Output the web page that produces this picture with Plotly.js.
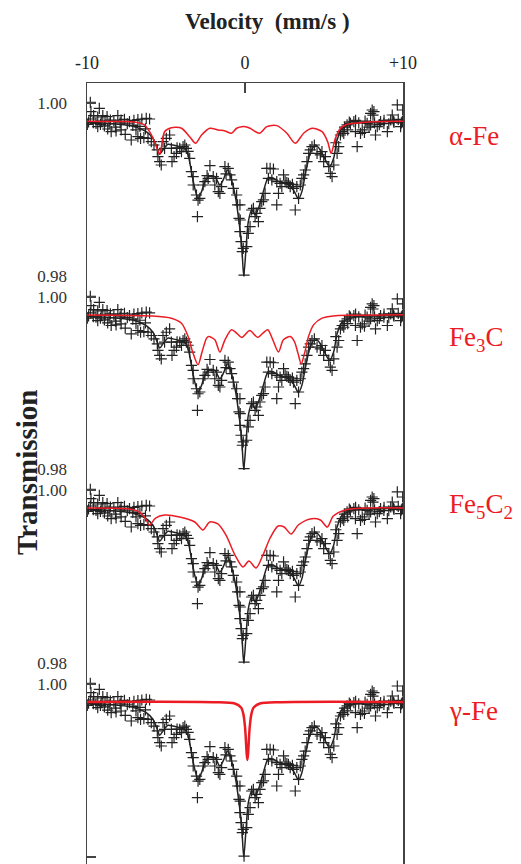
<!DOCTYPE html>
<html>
<head>
<meta charset="utf-8">
<script src="https://cdn.plot.ly/plotly-3.0.1.min.js"></script>
<style>html,body{margin:0;padding:0;background:#fff;}#chart{width:521px;height:864px;}</style>
</head>
<body>
<div id="chart"></div>
<script>
// Measured spectrum (velocity mm/s, relative transmission) - same data in every panel
const dataV = [-9.79,-9.22,-9.75,-9.58,-9.32,-9.00,-8.73,-9.79,-9.98,-9.43,-9.15,-8.86,-8.52,-8.30,-8.05,-7.84,-7.63,-7.31,-7.03,-6.78,-6.53,-6.25,-6.04,-9.32,-8.69,-8.47,-8.16,-7.84,-7.58,-7.20,-6.78,-6.61,-6.40,-6.14,-5.93,-5.76,-5.55,-5.51,-5.40,-5.30,-5.19,-4.98,-4.77,-5.09,-4.66,-4.49,-4.62,-4.34,-4.13,-3.92,-3.71,-4.02,-3.81,-3.50,-3.39,-3.28,-3.28,-3.07,-2.97,-2.86,-3.01,-2.65,-2.54,-2.33,-2.22,-2.01,-1.80,-1.91,-1.69,-1.59,-1.48,-1.27,-1.06,-0.95,-0.85,-0.74,-0.53,-0.47,-0.38,-0.32,-0.25,-0.17,
 -0.32,-0.30,-0.11,-0.06,0.11,0.21,0.32,0.42,0.53,0.64,0.74,0.85,0.95,1.06,1.17,1.27,1.38,1.59,1.80,1.48,1.70,2.01,2.22,2.44,2.54,2.75,2.86,3.07,3.28,3.50,2.12,2.01,2.33,3.18,3.39,3.60,3.71,3.81,3.92,4.03,4.13,4.24,4.39,4.56,4.77,4.87,4.98,5.09,5.30,5.40,5.51,5.62,5.83,5.93,6.04,6.15,6.25,6.46,6.67,6.89,6.99,7.10,7.31,7.42,7.56,7.73,7.95,8.05,8.16,8.26,8.37,8.58,8.79,9.01,9.22,9.32,9.43,9.64,9.85,9.98,9.96,
 -9.9,-9.6,-9.1,-8.9,-8.6,-8.2,-7.9,-7.45,-7.1,-6.9,-6.65,-6.3,6.6,7.0,7.2,7.6,7.85,8.2,8.5,8.8,9.1,9.4,9.7,9.9,7.95,8.10,6.3,6.5,5.75,-4.3,-3.6,2.65,3.0,-1.2,-2.4];
const dataT = [1.00008,0.99938,0.99900,0.99854,0.99838,0.99854,0.99842,0.99815,0.99753,0.99765,0.99753,0.99784,0.99803,0.99792,0.99854,0.99803,0.99811,0.99784,0.99800,0.99807,0.99815,0.99823,0.99815,0.99726,0.99699,0.99669,0.99676,0.99688,0.99638,0.99572,0.99611,0.99591,0.99599,0.99591,0.99553,0.99514,0.99457,0.99380,0.99322,0.99283,0.99553,0.99591,0.99630,0.99476,0.99476,0.99380,0.99322,0.99418,0.99476,0.99495,0.99476,0.99437,0.99514,0.99360,0.99206,0.99148,0.99052,0.98936,0.98878,0.98898,0.98686,0.99052,0.99090,0.99129,0.99275,0.99148,0.99129,0.99052,0.98975,0.98956,0.99033,0.99264,0.99245,0.99168,0.99110,0.99013,0.98936,0.98821,0.98667,0.98512,0.98397,0.98281,
 0.98821,0.98647,0.98320,0.98011,0.98339,0.98493,0.98570,0.98763,0.98782,0.98686,0.98724,0.98628,0.98782,0.98859,0.98879,0.98956,0.99245,0.99245,0.99237,0.99129,0.99110,0.99090,0.99071,0.99168,0.99098,0.99071,0.99033,0.99013,0.99033,0.99052,0.98956,0.98821,0.99033,0.98763,0.98898,0.99129,0.99168,0.99225,0.99322,0.99418,0.99457,0.99495,0.99514,0.99418,0.99399,0.99437,0.99322,0.99380,0.99264,0.99187,0.99148,0.99283,0.99418,0.99495,0.99630,0.99669,0.99649,0.99746,0.99765,0.99784,0.99669,0.99495,0.99649,0.99688,0.99661,0.99765,0.99746,0.99919,0.99900,0.99630,0.99726,0.99784,0.99765,0.99669,0.99803,0.99861,0.99776,0.99977,0.99726,0.99919,0.99784,
 0.99780,0.99772,0.99790,0.99735,0.99760,0.99720,0.99770,0.99760,0.99742,0.99690,0.99730,0.99700,0.99780,0.99800,0.99770,0.99790,0.99720,0.99770,0.99750,0.99800,0.99760,0.99790,0.99810,0.99770,0.99880,0.99860,0.99720,0.99690,0.99540,0.99480,0.99440,0.99080,0.99060,0.99180,0.99160];

// Total fit
const fitV = [-10,-8.05,-6.99,-6.25,-5.83,-5.55,-5.40,-5.19,-4.88,-4.56,-4.13,-3.81,-3.60,-3.39,-3.18,-2.97,-2.75,-2.54,-2.23,-1.91,-1.59,-1.38,-1.10,-0.85,-0.59,-0.38,-0.21,-0.08,0.08,0.21,0.43,0.64,0.85,1.16,1.48,1.80,2.23,2.86,3.18,3.39,3.60,3.81,4.13,4.45,4.77,5.09,5.36,5.61,5.83,6.15,6.88,8.16,10];
const fitT = [0.99777,0.99754,0.99726,0.99668,0.99592,0.99476,0.99407,0.99457,0.99523,0.99514,0.99495,0.99476,0.99399,0.99206,0.99014,0.98898,0.98975,0.99090,0.99156,0.99148,0.99052,0.99110,0.99226,0.99110,0.98898,0.98628,0.98358,0.98000,0.98358,0.98628,0.98763,0.98705,0.98783,0.98975,0.99136,0.99130,0.99083,0.99044,0.98956,0.98890,0.98975,0.99168,0.99419,0.99514,0.99457,0.99341,0.99264,0.99361,0.99572,0.99708,0.99765,0.99784,0.99792];

// Components
const alphaV = [-10,-8.07,-7.0,-6.36,-6.04,-5.72,-5.40,-5.09,-4.66,-4.02,-3.50,-3.13,-2.75,-2.23,-1.70,-1.27,-0.85,-0.53,-0.21,0.03,0.32,0.91,1.38,2.02,2.65,3.18,3.71,4.24,4.88,5.23,5.45,5.72,6.04,6.36,6.88,8.16,10];
const alphaT = [0.99790,0.99786,0.99780,0.99746,0.99668,0.99553,0.99407,0.99668,0.99714,0.99708,0.99610,0.99534,0.99630,0.99708,0.99688,0.99676,0.99650,0.99708,0.99726,0.99726,0.99708,0.99650,0.99726,0.99738,0.99650,0.99534,0.99650,0.99708,0.99668,0.99553,0.99419,0.99592,0.99708,0.99746,0.99765,0.99784,0.99790];
const fe3cV = [-10,-5.93,-4.66,-4.02,-3.60,-3.29,-2.97,-2.71,-2.43,-2.29,-1.91,-1.59,-1.27,-0.85,-0.53,-0.21,0.30,0.81,1.13,1.44,1.76,2.12,2.43,2.86,3.13,3.35,3.56,3.77,4.02,4.34,4.88,5.61,6.68,10];
const fe3cT = [0.99792,0.99780,0.99754,0.99696,0.99541,0.99349,0.99214,0.99368,0.99523,0.99541,0.99503,0.99361,0.99503,0.99619,0.99580,0.99530,0.99610,0.99530,0.99580,0.99619,0.99503,0.99361,0.99503,0.99541,0.99483,0.99349,0.99225,0.99349,0.99541,0.99676,0.99754,0.99780,0.99788,0.99795];
const fe5c2V = [-10,-7.63,-6.80,-6.36,-6.04,-5.66,-5.09,-4.13,-3.18,-2.67,-2.23,-1.72,-1.21,-0.64,-0.13,0.25,0.70,1.14,1.59,2.10,2.48,2.92,3.37,4.13,4.77,5.21,5.59,6.36,7.95,10];
const fe5c2T = [0.99792,0.99786,0.99757,0.99688,0.99595,0.99676,0.99711,0.99688,0.99630,0.99538,0.99630,0.99607,0.99480,0.99249,0.99110,0.99179,0.99098,0.99249,0.99445,0.99584,0.99572,0.99491,0.99595,0.99665,0.99653,0.99572,0.99699,0.99769,0.99792,0.99792];
const gammaV = [-10,-2,-0.65,-0.25,-0.10,0,0.05,0.10,0.15,0.20,0.25,0.30,0.40,0.55,0.95,2.3,10];
const gammaT = [0.99792,0.99790,0.99775,0.99728,0.99649,0.99504,0.99371,0.99208,0.99121,0.99208,0.99371,0.99504,0.99649,0.99728,0.99775,0.99790,0.99792];

const compV = [alphaV, fe3cV, fe5c2V, gammaV];
const compT = [alphaT, fe3cT, fe5c2T, gammaT];
const compLabels = ['α-Fe', 'Fe<sub>3</sub>C', 'Fe<sub>5</sub>C<sub>2</sub>', 'γ-Fe'];
const yTickVals = [0.98, 1.00];
const yTickText = ['0.98', '1.00'];
const xTickVals = [-10, 0, 10];
const xTickText = ['-10', '0', '+10'];

const SERIF = 'Liberation Serif, Times New Roman, serif';
const RED = '#ec1c24';
const INK = '#222';

const domains = [[0.75224, 1], [0.50448, 0.75224], [0.25672, 0.50448], [0, 0.25672]];
const ranges = [[0.97994, 1.00231], [0.97994, 1.00237], [0.97994, 1.00231], [0.97919, 1.00237]];
const labelY = [136, 339, 506, 711];

const traces = [];
const layout = {
  width: 521, height: 864,
  margin: {l: 87, r: 118, t: 83, b: 0},
  paper_bgcolor: '#fff', plot_bgcolor: '#fff',
  showlegend: false,
  font: {family: SERIF},
  xaxis: {
    range: [-10, 10], side: 'top', anchor: 'y',
    showline: true, linecolor: '#444', linewidth: 1.5,
    ticks: 'inside', ticklen: 10, tickwidth: 1.5, tickcolor: '#444',
    tickvals: xTickVals, ticktext: xTickText,
    tickfont: {family: SERIF, size: 18, color: INK},
    ticklabelstandoff: 5,
    showgrid: false, zeroline: false
  },
  annotations: [
    {text: '<b>Velocity&nbsp; (mm/s )</b>', xref: 'paper', yref: 'paper', x: (267 - 87) / 316, y: 1 + (83 - 21) / 781,
     xanchor: 'center', yanchor: 'middle', showarrow: false, font: {family: SERIF, size: 23, color: INK}},
    {text: '<b>Transmission</b>', xref: 'paper', yref: 'paper', x: (27 - 87) / 316, y: (864 - 472) / 781,
     xanchor: 'center', yanchor: 'middle', textangle: -90, showarrow: false, font: {family: SERIF, size: 29, color: INK}}
  ]
};

for (let k = 0; k < 4; k++) {
  const yName = k === 0 ? 'y' : 'y' + (k + 1);
  const axKey = k === 0 ? 'yaxis' : 'yaxis' + (k + 1);
  layout[axKey] = {
    domain: domains[k], range: ranges[k], anchor: 'x',
    showline: true, mirror: true, linecolor: '#444', linewidth: 1.5,
    ticks: 'inside', ticklen: 9, tickwidth: 1.2, tickcolor: '#444',
    tickvals: yTickVals, ticktext: yTickText,
    tickfont: {family: SERIF, size: 17, color: '#333'},
    ticklabelstandoff: 15,
    showgrid: false, zeroline: false
  };
  traces.push({x: dataV, y: dataT, xaxis: 'x', yaxis: yName, type: 'scatter', mode: 'markers',
    marker: {symbol: 'cross-thin', size: 8, color: INK, line: {width: 1.2, color: INK}}, hoverinfo: 'skip'});
  traces.push({x: fitV, y: fitT, xaxis: 'x', yaxis: yName, type: 'scatter', mode: 'lines',
    line: {color: INK, width: 1.5, shape: 'spline', smoothing: 0.8}, hoverinfo: 'skip'});
  traces.push({x: compV[k], y: compT[k], xaxis: 'x', yaxis: yName, type: 'scatter', mode: 'lines',
    line: {color: RED, width: k === 3 ? 2.5 : 1.5, shape: 'spline', smoothing: 0.8}, hoverinfo: 'skip'});
  layout.annotations.push({text: compLabels[k], xref: 'paper', yref: 'paper', x: (447 - 87) / 316, y: (864 - labelY[k]) / 781,
    xanchor: 'left', yanchor: 'middle', showarrow: false, font: {family: SERIF, size: 27, color: RED}});
}

Plotly.newPlot('chart', traces, layout, {displayModeBar: false, staticPlot: true});
</script>
</body>
</html>
